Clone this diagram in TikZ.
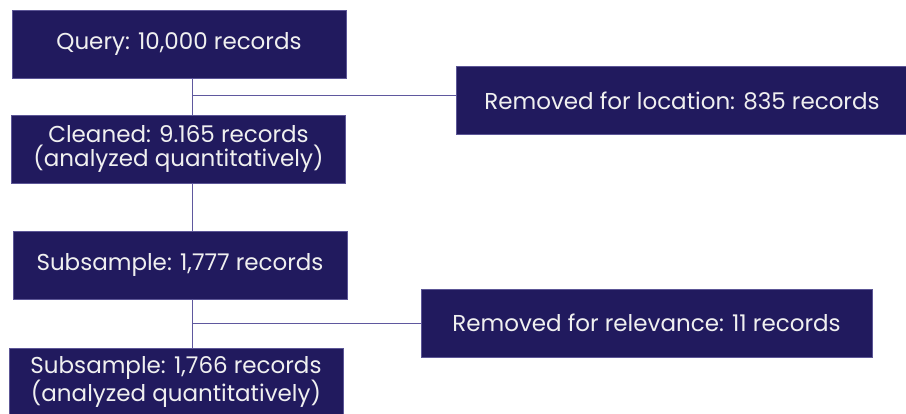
\documentclass[tikz,border=0pt]{standalone}
\usepackage{fontspec}
\setmainfont{Poppins}
\usetikzlibrary{positioning}
\definecolor{boxnavy}{RGB}{33,26,94}
\definecolor{boxedge}{RGB}{92,86,150}
\definecolor{linkline}{RGB}{95,88,158}
\begin{document}
\begin{tikzpicture}[
  x=1pt,y=-1pt,
  recbox/.style={fill=boxnavy,draw=boxedge,line width=0.6pt,text=white!94!black,align=center,minimum height=68pt,inner sep=0pt,font=\fontsize{23}{24.5}\selectfont},
  mainbox/.style={recbox,minimum width=334pt},
  outbox/.style={recbox,minimum width=451pt},
  link/.style={draw=linkline,line width=1pt}
]
\useasboundingbox (0,0) rectangle (906,414);
\node[mainbox] (query) at (179,44) {Query: 10,000 records};
\node[mainbox] (cleaned) at (178.5,149) {Cleaned: 9.165 records\\(analyzed quantitatively)};
\node[mainbox] (sub1) at (180,265) {Subsample: 1,777 records};
\node[mainbox] (sub2) at (176,382) {Subsample: 1,766 records\\(analyzed quantitatively)};
\node[outbox] (loc) at (682,100.5) {Removed for location: 835 records};
\node[outbox] (rel) at (646.5,323) {Removed for relevance: 11 records};
% trunk line and branch points
\coordinate (trunk) at (192,0);
\coordinate (j1) at (192,96);
\coordinate (j2) at (192,324);
\draw[link] (query.south -| trunk) -- (cleaned.north -| trunk);
\draw[link] (cleaned.south -| trunk) -- (sub1.north -| trunk);
\draw[link] (sub1.south -| trunk) -- (sub2.north -| trunk);
\draw[link] (j1) -- (j1 -| loc.west);
\draw[link] (j2) -- (j2 -| rel.west);
\end{tikzpicture}
\end{document}
